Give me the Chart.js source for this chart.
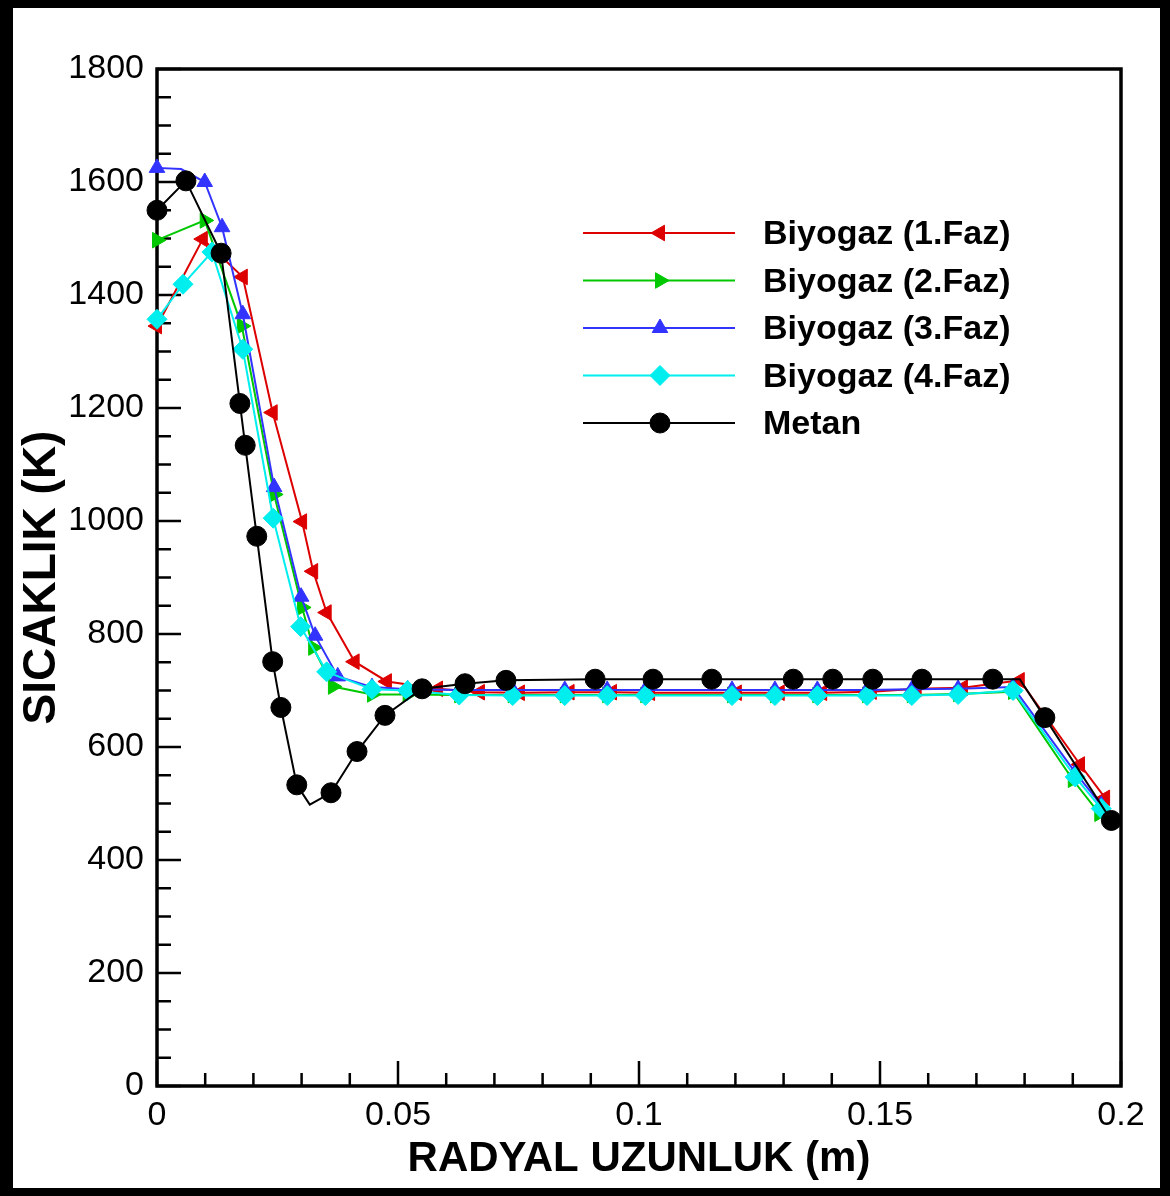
<!DOCTYPE html>
<html>
<head>
<meta charset="utf-8">
<script src="https://cdn.jsdelivr.net/npm/chart.js@4.4.0/dist/chart.umd.min.js"></script>
<style>
  html, body { margin: 0; padding: 0; background: #fff; }
  #wrap { position: relative; width: 1170px; height: 1196px; }
  canvas { display: block; }
</style>
</head>
<body>
<div id="wrap"><canvas id="c" width="1170" height="1196"></canvas></div>
<script>
// ---- data ----
const xTickLabels = ['0', '0.05', '0.1', '0.15', '0.2'];
const yTickLabels = ['0', '200', '400', '600', '800', '1000', '1200', '1400', '1600', '1800'];
const seriesNames = ['Biyogaz (1.Faz)', 'Biyogaz (2.Faz)', 'Biyogaz (3.Faz)', 'Biyogaz (4.Faz)', 'Metan'];

const faz1X = [0, 0.0095, 0.0178, 0.024, 0.0301, 0.0324, 0.0352, 0.041, 0.0477, 0.0583, 0.067, 0.0753, 0.0856, 0.0944, 0.1023, 0.1203, 0.1292, 0.138, 0.1483, 0.1576, 0.1672, 0.179, 0.1915, 0.1967];
const faz1Y = [1345, 1499, 1432, 1192, 999, 911, 838, 751, 716, 703, 697, 696, 697, 697, 696, 696, 696, 696, 698, 703, 705, 718, 569, 510];

const faz2X = [0, 0.0099, 0.0176, 0.0243, 0.0301, 0.0324, 0.0365, 0.0446, 0.052, 0.0627, 0.0738, 0.0846, 0.0934, 0.1013, 0.1193, 0.1282, 0.137, 0.1473, 0.1566, 0.1662, 0.1776, 0.1900, 0.1955];
const faz2Y = [1497, 1532, 1345, 1047, 847, 776, 707, 693, 693, 692, 692, 692, 692, 692, 692, 692, 692, 692, 692, 694, 698, 542, 482];

const faz3X = [0, 0.005, 0.0099, 0.0135, 0.0178, 0.0243, 0.0299, 0.0328, 0.0375, 0.0446, 0.052, 0.0627, 0.0738, 0.0846, 0.0934, 0.1013, 0.1193, 0.1282, 0.137, 0.1473, 0.1566, 0.1662, 0.1776, 0.1905, 0.1959];
const faz3Y = [1625, 1623, 1600, 1520, 1366, 1060, 866, 797, 725, 706, 702, 701, 701, 701, 701, 701, 701, 701, 701, 701, 702, 703, 706, 555, 497];

const faz4X = [0, 0.0054, 0.0114, 0.0178, 0.0241, 0.0298, 0.0352, 0.0446, 0.052, 0.0627, 0.0738, 0.0846, 0.0934, 0.1013, 0.1193, 0.1282, 0.137, 0.1473, 0.1566, 0.1662, 0.1776, 0.1905, 0.1959];
const faz4Y = [1357, 1419, 1476, 1304, 1005, 813, 733, 702, 700, 692, 691, 691, 691, 691, 691, 691, 691, 691, 691, 693, 700, 547, 491];

const metanX = [0, 0.006, 0.0133, 0.0172, 0.0183, 0.0207, 0.024, 0.0257, 0.029, 0.0317, 0.0361, 0.0415, 0.0473, 0.055, 0.0639, 0.0724, 0.0909, 0.1029, 0.1151, 0.132, 0.1402, 0.1485, 0.1587, 0.1734, 0.179, 0.1842, 0.198];
const metanY = [1550, 1602, 1474, 1208, 1134, 973, 751, 670, 533, 498, 519, 592, 656, 703, 712, 718, 720, 720, 720, 720, 720, 720, 720, 720, 720, 652, 470];

// line vertices that carry no symbol
const faz3NoSymbol = [1];
const metanNoSymbol = [9, 24];

// ---- build ----
const FONT = "'Liberation Sans', Arial, Helvetica, sans-serif";
function pts(xs, ys) { return xs.map((x, i) => ({ x: x, y: ys[i] })); }
function radiusFn(r, skip) { return (ctx) => (skip.indexOf(ctx.dataIndex) >= 0 ? 0 : r); }

const styles = [
  { color: '#dd0000', pointStyle: 'triangle', rotation: -90, radius: 9, order: 4 },
  { color: '#00c800', pointStyle: 'triangle', rotation: 90, radius: 9, order: 3 },
  { color: '#3333ff', pointStyle: 'triangle', rotation: 0, radius: 9, order: 2 },
  { color: '#00eeee', pointStyle: 'rectRot', rotation: 0, radius: 10, order: 1 },
  { color: '#000000', pointStyle: 'circle', rotation: 0, radius: 10, order: 0 }
];
const seriesData = [pts(faz1X, faz1Y), pts(faz2X, faz2Y), pts(faz3X, faz3Y), pts(faz4X, faz4Y), pts(metanX, metanY)];
const noSym = [[], [], faz3NoSymbol, [], metanNoSymbol];

const datasets = seriesNames.map((name, i) => ({
  label: name,
  data: seriesData[i],
  borderColor: styles[i].color,
  backgroundColor: styles[i].color,
  pointBackgroundColor: styles[i].color,
  pointBorderColor: styles[i].color,
  pointBorderWidth: 1,
  pointStyle: styles[i].pointStyle,
  pointRotation: styles[i].rotation,
  pointRadius: radiusFn(styles[i].radius, noSym[i]),
  pointHoverRadius: radiusFn(styles[i].radius, noSym[i]),
  borderWidth: 2,
  tension: 0,
  fill: false,
  showLine: true,
  clip: false,
  order: styles[i].order
}));

function drawMarker(ctx, st, x, y) {
  if (Chart.helpers && Chart.helpers.drawPoint) {
    ctx.fillStyle = st.color; ctx.strokeStyle = st.color; ctx.lineWidth = 1;
    Chart.helpers.drawPoint(ctx, { pointStyle: st.pointStyle, radius: st.radius, rotation: st.rotation, borderWidth: 1 }, x, y);
    return;
  }
  ctx.save();
  ctx.fillStyle = st.color;
  ctx.translate(x, y);
  ctx.rotate(st.rotation * Math.PI / 180);
  ctx.beginPath();
  const r = st.radius;
  if (st.pointStyle === 'circle') { ctx.arc(0, 0, r, 0, Math.PI * 2); }
  else if (st.pointStyle === 'triangle') {
    ctx.moveTo(0, -r); ctx.lineTo(r * 0.866, r * 0.5); ctx.lineTo(-r * 0.866, r * 0.5);
  } else { ctx.moveTo(0, -r); ctx.lineTo(r, 0); ctx.lineTo(0, r); ctx.lineTo(-r, 0); }
  ctx.closePath(); ctx.fill();
  ctx.restore();
}

const decor = {
  id: 'decor',
  beforeDraw(chart) {
    const ctx = chart.ctx, W = chart.width, H = chart.height;
    ctx.save();
    ctx.fillStyle = '#ffffff'; ctx.fillRect(0, 0, W, H);
    ctx.fillStyle = '#000000';
    ctx.fillRect(0, 0, W, 8);
    ctx.fillRect(0, H - 8, W, 8);
    ctx.fillRect(0, 0, 13, H);
    ctx.fillRect(W - 10, 0, 10, H);
    ctx.restore();
  },
  beforeDatasetsDraw(chart) {
    const ctx = chart.ctx, a = chart.chartArea;
    const xs = chart.scales.x, ys = chart.scales.y;
    ctx.save();
    ctx.strokeStyle = '#000'; ctx.lineWidth = 3.5;
    ctx.strokeRect(a.left, a.top, a.right - a.left, a.bottom - a.top);
    ctx.lineWidth = 2.5;
    ctx.beginPath();
    const xt = xs.ticks.map(t => t.value);
    for (let i = 0; i < xt.length; i++) {
      const px = xs.getPixelForValue(xt[i]);
      ctx.moveTo(px, a.bottom); ctx.lineTo(px, a.bottom - 25);
      if (i < xt.length - 1) {
        for (let k = 1; k < 5; k++) {
          const mp = xs.getPixelForValue(xt[i] + (xt[i + 1] - xt[i]) * k / 5);
          ctx.moveTo(mp, a.bottom); ctx.lineTo(mp, a.bottom - 13);
        }
      }
    }
    const yt = ys.ticks.map(t => t.value);
    for (let i = 0; i < yt.length; i++) {
      const py = ys.getPixelForValue(yt[i]);
      ctx.moveTo(a.left, py); ctx.lineTo(a.left + 24, py);
      if (i < yt.length - 1) {
        for (let k = 1; k < 4; k++) {
          const mp = ys.getPixelForValue(yt[i] + (yt[i + 1] - yt[i]) * k / 4);
          ctx.moveTo(a.left, mp); ctx.lineTo(a.left + 14, mp);
        }
      }
    }
    ctx.stroke();
    ctx.restore();
  },
  afterDatasetsDraw(chart) {
    const ctx = chart.ctx;
    ctx.save();
    chart.data.datasets.forEach((ds, i) => {
      const st = styles[i];
      const y = 233 + i * 47.5;
      ctx.strokeStyle = st.color; ctx.lineWidth = 2;
      ctx.beginPath(); ctx.moveTo(583, y); ctx.lineTo(735, y); ctx.stroke();
      drawMarker(ctx, st, 660, y);
      ctx.fillStyle = '#000';
      ctx.font = 'bold 34px ' + FONT;
      ctx.textAlign = 'left'; ctx.textBaseline = 'middle';
      ctx.fillText(ds.label, 763, y + 2);
    });
    ctx.restore();
  }
};

new Chart(document.getElementById('c'), {
  type: 'scatter',
  data: { datasets: datasets },
  options: {
    responsive: false,
    animation: false,
    devicePixelRatio: 1,
    layout: { padding: { left: 0, top: 69, right: 49, bottom: 0 } },
    plugins: { legend: { display: false }, tooltip: { enabled: false } },
    scales: {
      x: {
        type: 'linear', min: 0, max: 0.2,
        grid: { display: false }, border: { display: false },
        ticks: { stepSize: 0.05, color: '#000', padding: 1, font: { family: FONT, size: 34 },
                 callback: (v, i) => xTickLabels[i] },
        title: { display: true, text: 'RADYAL UZUNLUK (m)', color: '#000',
                 font: { family: FONT, size: 42, weight: 'bold' }, padding: { top: 0, bottom: 11 } },
        afterFit: (s) => { s.height = 110; }
      },
      y: {
        type: 'linear', min: 0, max: 1800,
        grid: { display: false }, border: { display: false },
        ticks: { stepSize: 200, color: '#000', padding: 5, font: { family: FONT, size: 34 },
                 callback: (v, i) => yTickLabels[i] },
        title: { display: true, text: 'SICAKLIK (K)', color: '#000',
                 font: { family: FONT, size: 46, weight: 'bold' }, padding: { top: 15, bottom: 0 } },
        afterFit: (s) => { s.width = 157; }
      }
    }
  },
  plugins: [decor]
});
</script>
</body>
</html>
